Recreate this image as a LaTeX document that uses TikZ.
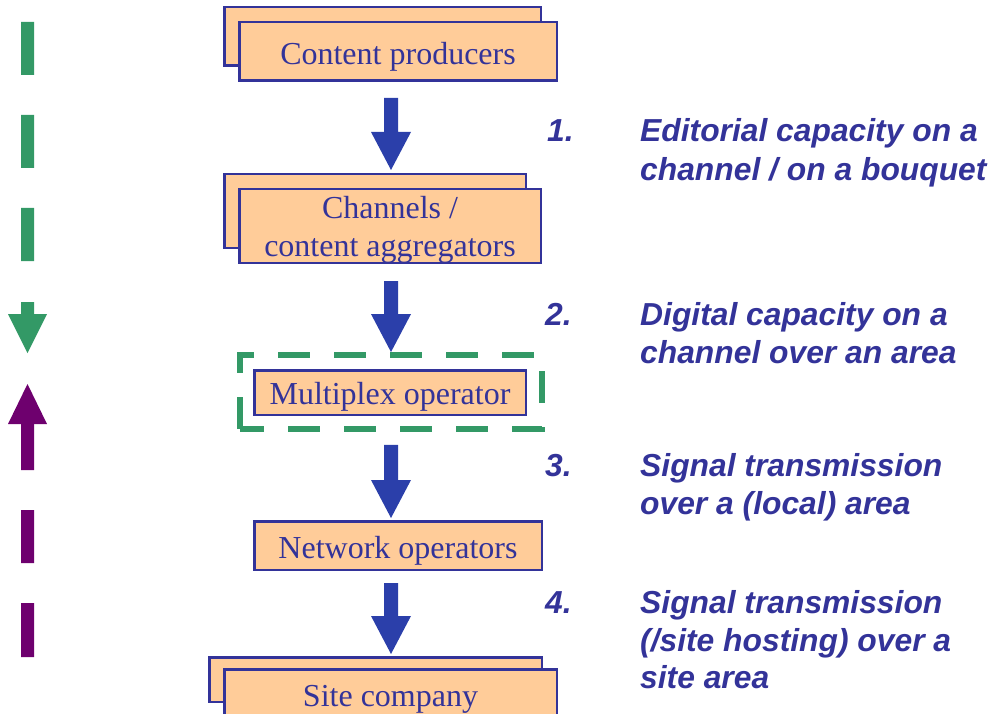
\documentclass[tikz,border=0pt]{standalone}
\usepackage{fontspec}
\setmainfont{Liberation Serif}
\newfontfamily\notefont{Liberation Sans}
\usetikzlibrary{calc}

\definecolor{boxfill}{HTML}{FFCC99}
\definecolor{boxline}{HTML}{333399}
\definecolor{arrowblue}{HTML}{2B3FAA}
\definecolor{framegreen}{HTML}{339966}
\definecolor{uppurple}{HTML}{6E006E}
\definecolor{notetext}{HTML}{333399}

% block arrow from a start point (top of stem) to a tip point
\newcommand\flowarrow[2]{%
  \fill[arrowblue] ($(#1)+(-7,0)$) -- ($(#2)+(-7,-38)$) -- ($(#2)+(-20,-38)$)
    -- (#2) -- ($(#2)+(20,-38)$) -- ($(#2)+(7,-38)$) -- ($(#1)+(7,0)$) -- cycle;}

\begin{document}
\begin{tikzpicture}[x=1pt,y=-1pt,
  card/.style={draw=boxline, fill=boxfill, line width=2.5pt, rectangle, inner sep=0pt},
  boxtext/.style={font=\fontsize{32}{38}\selectfont, text=boxline, inner sep=0pt, anchor=base},
  note/.style={font=\notefont\bfseries\itshape\fontsize{31.8}{39}\selectfont, text=notetext, inner sep=0pt, anchor=base west},
  frame/.style={draw=framegreen, line width=6.5pt, dash pattern=on 32pt off 24pt}]
\useasboundingbox (0,0) rectangle (993,714);

% stacked boxes of the value chain
\node[card, minimum width=316.5pt, minimum height=58.5pt] (cpb) at (382.5,36.5) {};
\node[card, minimum width=317.5pt, minimum height=58.5pt] (cp) at (398,51.5) {};
\node[boxtext] (cp-t) at ($(cp.center)+(0,13)$) {Content producers};

\node[card, minimum width=301.5pt, minimum height=73.5pt] (chb) at (375,211) {};
\node[card, minimum width=301.5pt, minimum height=73.5pt] (ch) at (390,226) {};
\node[boxtext] (ch-t1) at ($(ch.center)+(0,-7.5)$) {Channels /};
\node[boxtext] (ch-t2) at ($(ch.center)+(0,30.5)$) {content aggregators};

\node[card, minimum width=271.5pt, minimum height=44.5pt] (mx) at (390,392.5) {};
\node[boxtext] (mx-t) at ($(mx.center)+(0,11.5)$) {Multiplex operator};

\node[card, minimum width=287.5pt, minimum height=48.5pt] (no) at (398,545.5) {};
\node[boxtext] (no-t) at ($(no.center)+(0,12.5)$) {Network operators};

\node[card, minimum width=332.5pt, minimum height=44.5pt] (scb) at (375.5,679.5) {};
\node[card, minimum width=332.5pt, minimum height=45.5pt] (sc) at (390.5,692) {};
\node[boxtext] (sc-t) at ($(sc.center)+(0,14)$) {Site company};

% dashed frame round the multiplex operator
\node[inner sep=0pt, minimum width=301.5pt, minimum height=73.5pt] (mxf) at (391,392) {};
\draw[frame] (mxf.south west) -- (mxf.north west) -- (mxf.north east) -- (mxf.south east) -- cycle;

% block arrows between the stages
\coordinate (ax) at (391,0);
\coordinate (a1s) at ($(cp.south -| ax)+(0,16)$);
\coordinate (a1e) at ($(chb.north -| ax)+(0,-3)$);
\coordinate (a2s) at ($(ch.south -| ax)+(0,17)$);
\coordinate (a2e) at ($(mxf.north -| ax)+(0,-3)$);
\coordinate (a3s) at ($(mxf.south -| ax)+(0,16)$);
\coordinate (a3e) at ($(no.north -| ax)+(0,-2)$);
\coordinate (a4s) at ($(no.south -| ax)+(0,12)$);
\coordinate (a4e) at ($(scb.north -| ax)+(0,-2)$);
\flowarrow{a1s}{a1e}
\flowarrow{a2s}{a2e}
\flowarrow{a3s}{a3e}
\flowarrow{a4s}{a4e}

% dashed direction arrows on the left
\fill[framegreen] (21,22) rectangle (34,75) (21,115) rectangle (34,168)
  (21,208) rectangle (34,261) (21,302) rectangle (34,315);
\fill[framegreen] (8,314) -- (47,314) -- (27.5,353) -- cycle;
\fill[uppurple] (8,424) -- (47,424) -- (27.5,384) -- cycle;
\fill[uppurple] (21,423) rectangle (34,470) (21,510) rectangle (34,563)
  (21,603) rectangle (34,657);

% numbered notes
\node[note] (n1) at (547,142) {1.};
\node[note] (n1a) at (640,142) {Editorial capacity on a};
\node[note] (n1b) at (640,181) {channel / on a bouquet};
\node[note] (n2) at (545,325) {2.};
\node[note] (n2a) at (640,325) {Digital capacity on a};
\node[note] (n2b) at (640,363) {channel over an area};
\node[note] (n3) at (545,476) {3.};
\node[note] (n3a) at (640,476) {Signal transmission};
\node[note] (n3b) at (640,514) {over a (local) area};
\node[note] (n4) at (545,613) {4.};
\node[note] (n4a) at (640,613) {Signal transmission};
\node[note] (n4b) at (640,651) {(/site hosting) over a};
\node[note] (n4c) at (640,688) {site area};
\end{tikzpicture}
\end{document}
